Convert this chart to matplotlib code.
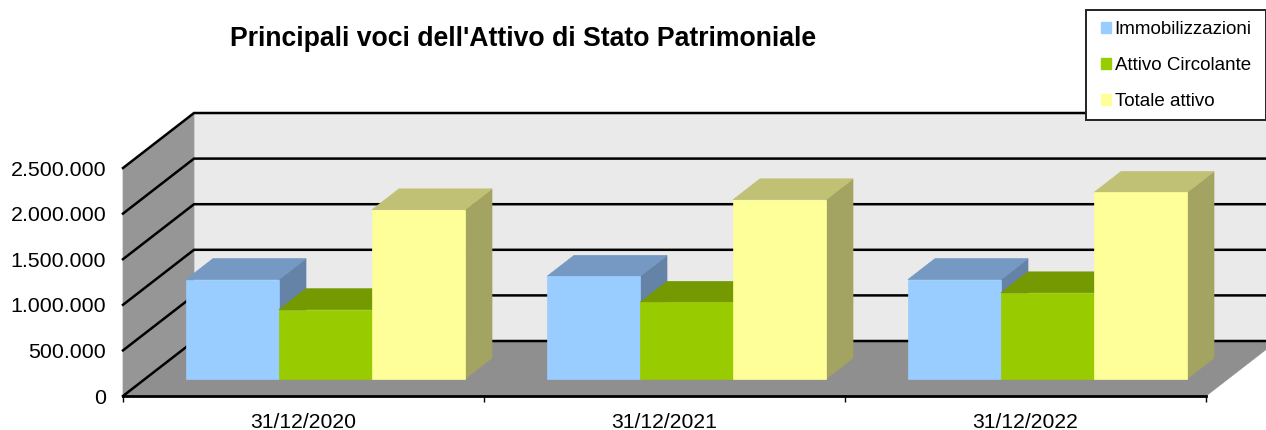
import matplotlib
matplotlib.use("Agg")
import matplotlib.pyplot as plt
from matplotlib.patches import Patch, Polygon, Rectangle

plt.rcParams['font.family'] = ['Liberation Sans', 'DejaVu Sans']

dates = ["31/12/2020", "31/12/2021", "31/12/2022"]
immobilizzazioni = [1090000, 1125000, 1090000]
circolante = [760000, 840000, 945000]
totale = [1855000, 1965000, 2045000]
y_ticks = [0, 500000, 1000000, 1500000, 2000000, 2500000]

names = ["Immobilizzazioni", "Attivo Circolante", "Totale attivo"]
fronts = ["#99CCFF", "#99CC00", "#FFFF99"]
tops = ["#7599C2", "#759900", "#C1C176"]
sides = ["#6483A6", "#638400", "#A3A362"]

# oblique depth of the chart box, in data units
DX = 71 / 361
DY = 603000
BAR_W = 93 / 361
GAP = 41 / 361
D0, D1 = 0.31, 0.69


def proj(x, v, d):
    return (x + d * DX, v + d * DY)


def poly(ax, pts, color, z, edge=None):
    ax.add_patch(Polygon(pts, closed=True, facecolor=color, edgecolor=edge or color,
                         linewidth=0.5, clip_on=False, zorder=z))


fig = plt.figure(figsize=(12.66, 4.3), dpi=100)
ax = fig.add_axes([123 / 1266, 34 / 430, 1083 / 1266, 228 / 430])
ax.set_xlim(0, 3)
ax.set_ylim(0, 2500000)
ax.patch.set_visible(False)

# walls and floor
top = y_ticks[-1]
poly(ax, [proj(0, 0, 1), proj(3, 0, 1), proj(3, top, 1), proj(0, top, 1)], "#EAEAEA", 1)
poly(ax, [proj(0, 0, 0), proj(0, 0, 1), proj(0, top, 1), proj(0, top, 0)], "#969696", 1)
poly(ax, [proj(0, 0, 0), proj(3, 0, 0), proj(3, 0, 1), proj(0, 0, 1)], "#8F8F8F", 1)

for v in y_ticks:
    a, b, c = proj(0, v, 0), proj(0, v, 1), proj(3, v, 1)
    ax.plot([a[0], b[0], c[0]], [a[1], b[1], c[1]], color="black", lw=1.8,
            clip_on=False, zorder=2, solid_joinstyle="miter")

# bars, left to right so the neighbour hides the side face
z = 3
for i, group in enumerate(zip(immobilizzazioni, circolante, totale)):
    for j, val in enumerate(group):
        x0 = i + GAP + j * BAR_W
        x1 = x0 + BAR_W
        poly(ax, [proj(x1, 0, D0), proj(x1, 0, D1), proj(x1, val, D1), proj(x1, val, D0)], sides[j], z)
        poly(ax, [proj(x0, val, D0), proj(x1, val, D0), proj(x1, val, D1), proj(x0, val, D1)], tops[j], z)
        poly(ax, [proj(x0, 0, D0), proj(x1, 0, D0), proj(x1, val, D0), proj(x0, val, D0)], fronts[j], z)
        z += 1

# axes
for s in ["top", "right", "left"]:
    ax.spines[s].set_visible(False)
ax.spines["bottom"].set_linewidth(2)
ax.spines["bottom"].set_zorder(20)
ax.set_xticks([0, 1, 2, 3])
ax.set_xticklabels([])
ax.set_xticks([0.5, 1.5, 2.5], minor=True)
ax.set_xticklabels(dates, minor=True, fontsize=15.2)
ax.tick_params(axis="x", which="major", length=4, width=1, direction="out")
ax.tick_params(axis="x", which="minor", length=0, pad=12)
ax.set_yticks(y_ticks)
ax.set_yticklabels([f"{v:,}".replace(",", ".") for v in y_ticks], fontsize=15.4)
ax.tick_params(axis="y", length=0, pad=12)

fig.text(523.5 / 1266, 1 - 38.5 / 430, "Principali voci dell'Attivo di Stato Patrimoniale",
         fontsize=19.2, fontweight="bold", ha="center", va="center")

# legend box is drawn apart from the entries, its padding is uneven
fig.add_artist(Rectangle((1086 / 1266, 1 - 120 / 430), 180 / 1266, 110 / 430,
                         transform=fig.transFigure, facecolor="white", edgecolor="#222222",
                         linewidth=1.4, zorder=30))
handles = [Patch(facecolor=c, edgecolor=c) for c in fronts]
leg = fig.legend(handles, names, loc="upper left", bbox_to_anchor=(1101 / 1266, 1 - 21 / 430),
                 bbox_transform=fig.transFigure, fontsize=13.5, frameon=False,
                 handlelength=0.53, handleheight=0.53, handletextpad=0.2,
                 labelspacing=1.02, borderpad=0, borderaxespad=0)
leg.set_zorder(31)

fig.savefig("out.png", dpi=100)
